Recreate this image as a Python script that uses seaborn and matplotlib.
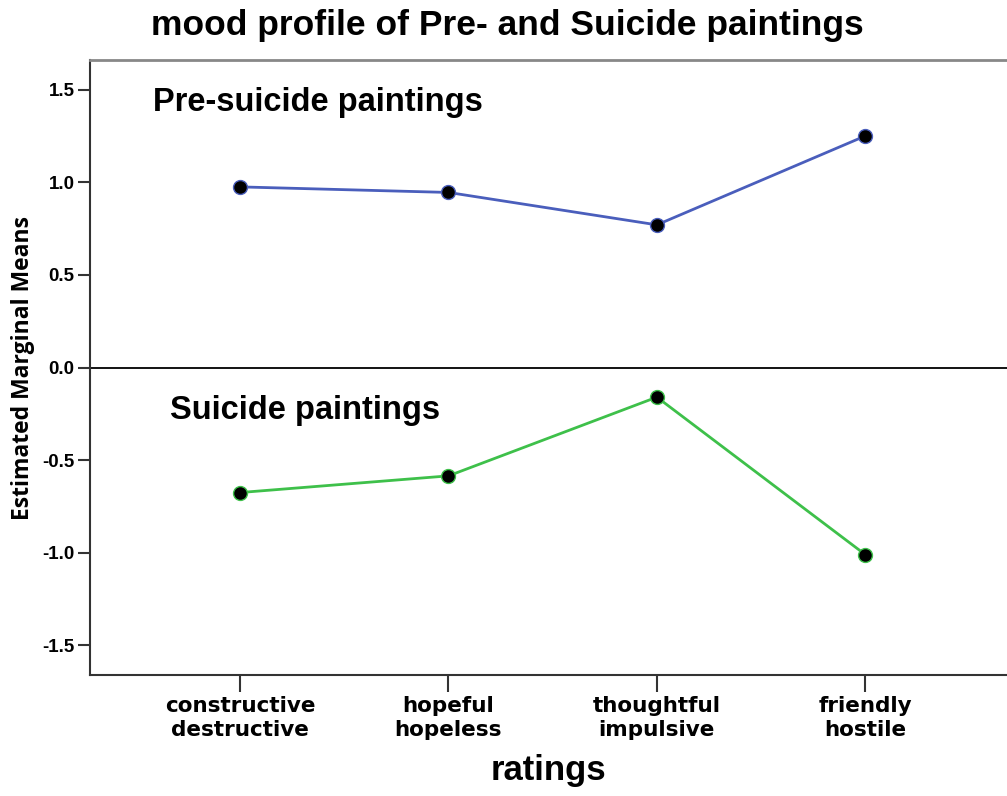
import matplotlib
matplotlib.use("Agg")
import matplotlib.pyplot as plt
import seaborn as sns
import pandas as pd

categories = ["constructive\ndestructive", "hopeful\nhopeless", "thoughtful\nimpulsive", "friendly\nhostile"]
pre_suicide = [0.975, 0.945, 0.77, 1.25]
suicide = [-0.675, -0.585, -0.16, -1.01]
yticks = [-1.5, -1.0, -0.5, 0.0, 0.5, 1.0, 1.5]

df = pd.DataFrame({
    "x": list(range(4)) * 2,
    "value": pre_suicide + suicide,
    "group": ["Pre-suicide paintings"] * 4 + ["Suicide paintings"] * 4,
})

sns.set_style("white")
plt.rcParams.update({"text.color": "black", "axes.labelcolor": "black",
                     "xtick.color": "black", "ytick.color": "black"})
fig = plt.figure(figsize=(10.07, 7.96), dpi=100)
ax = fig.add_axes([90/1007, 1 - 675/796, 1 - 90/1007, (675 - 60)/796])

palette = {"Pre-suicide paintings": "#4a5ebc", "Suicide paintings": "#3ec04a"}
for g, col in palette.items():
    sub = df[df.group == g]
    sns.lineplot(data=sub, x="x", y="value", ax=ax, color=col, linewidth=2,
                 marker="o", markersize=10, markerfacecolor="black",
                 markeredgecolor=col, markeredgewidth=1, legend=False)

ax.axhline(0, color="black", linewidth=1.3, zorder=1)
ax.set_xlim(-0.72, 3.68)
ax.set_ylim(-1.66, 1.66)
ax.set_yticks(yticks)
ax.set_yticklabels([f"{t:.1f}" for t in yticks], fontsize=13.5, fontweight="bold",
                   family="Liberation Sans")
ax.set_xticks(range(4))
ax.set_xticklabels(categories, fontsize=15.5, fontweight="bold", family="DejaVu Sans",
                   linespacing=1.25)
ax.tick_params(axis="y", length=9, width=1.5, color="#333333", direction="out",
               left=True, pad=2)
ax.tick_params(axis="x", length=12, width=1.5, color="#333333", direction="out",
               bottom=True, pad=3)

for s in ["left", "bottom"]:
    ax.spines[s].set_color("#333333")
    ax.spines[s].set_linewidth(1.5)
ax.spines["top"].set_color("#888888")
ax.spines["top"].set_linewidth(2)
ax.spines["right"].set_visible(False)

ax.set_xlabel("ratings", fontsize=25, fontweight="bold", family="Liberation Sans", labelpad=10)
ax.set_ylabel("Estimated Marginal Means", fontsize=16.5, fontweight="bold",
              family="Open Sans")
ax.yaxis.set_label_coords(-0.06, 0.5)

ax.text(-0.42, 1.43, "Pre-suicide paintings", fontsize=23.5, fontweight="bold",
        family="Liberation Sans", va="center", ha="left")
ax.text(-0.336, -0.232, "Suicide paintings", fontsize=23.5, fontweight="bold",
        family="Liberation Sans", va="center", ha="left")

fig.suptitle("mood profile of Pre- and Suicide paintings", x=507/1007, y=1 - 25/796,
             va="center", fontsize=25.5, fontweight="bold", family="Liberation Sans")

fig.savefig("out.png", dpi=100)
